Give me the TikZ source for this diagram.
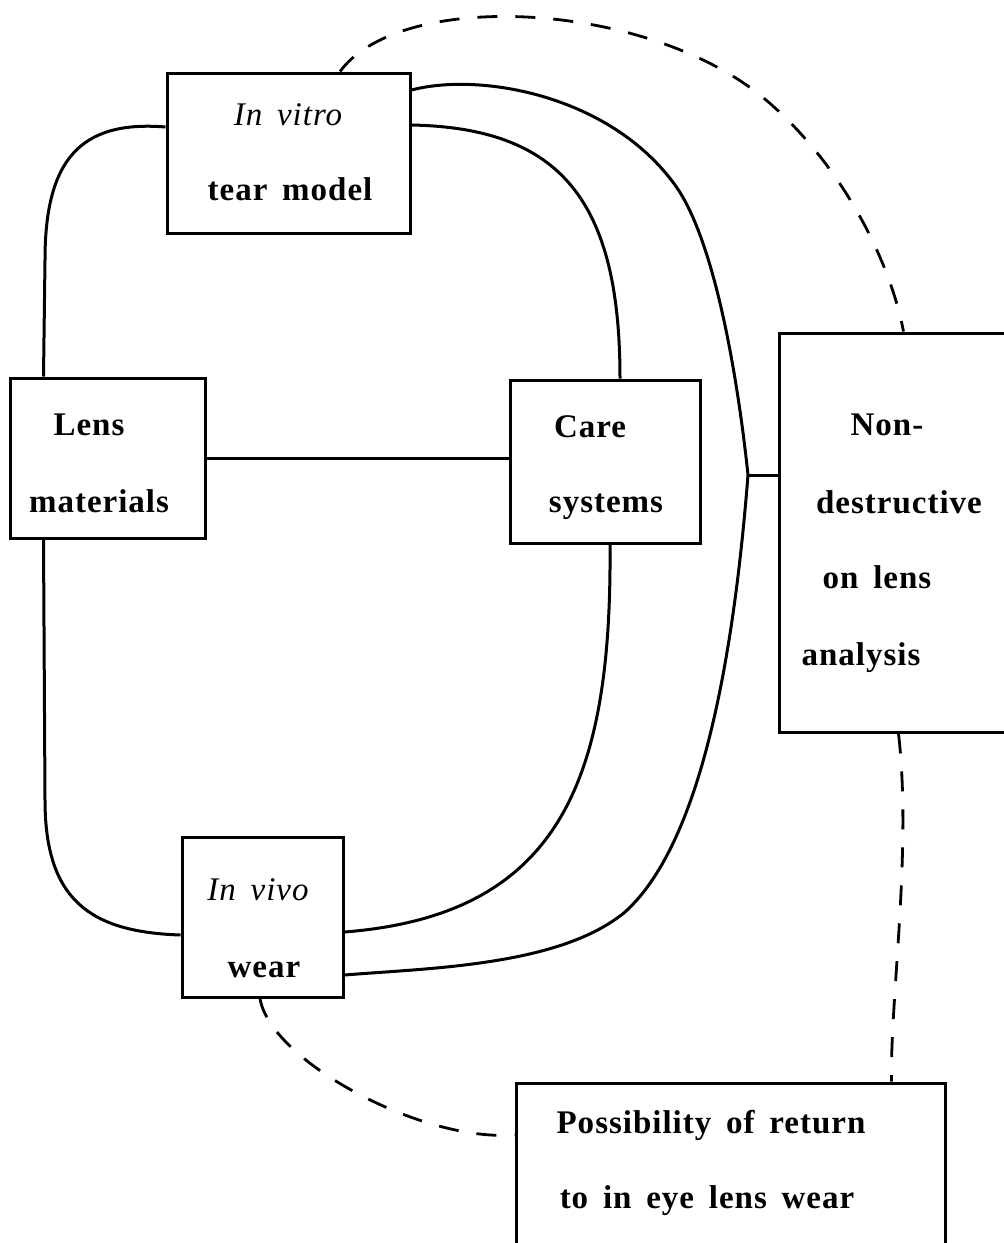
\documentclass[tikz,border=0pt]{standalone}
\usepackage{fontspec}
\setmainfont{Liberation Serif}[LetterSpace=3,WordSpace=1.6]
\usetikzlibrary{calc}
\begin{document}
\begin{tikzpicture}[x=0.5pt,y=-0.5pt,
  box/.style={draw,line width=1.5pt,inner sep=0pt},
  link/.style={line width=1.5pt},
  dlink/.style={line width=1.4pt,dash pattern=on 10pt off 9pt},
  lbl/.style={anchor=base,inner sep=0pt,font=\fontsize{16.5}{19}\selectfont\bfseries},
  ilbl/.style={anchor=base,inner sep=0pt,font=\fontsize{16.5}{19}\selectfont\itshape}]
\useasboundingbox (0,0) rectangle (1003,1243);
% boxes
\node[box,minimum width=121.5pt,minimum height=80pt] (vitro) at (288.5,153) {};
\node[box,minimum width=97.5pt,minimum height=80pt] (lens) at (107.5,458) {};
\node[box,minimum width=95pt,minimum height=81.5pt] (care) at (605,461.5) {};
\node[box,minimum width=116pt,minimum height=199.5pt] (nond) at (895,532.5) {};
\node[box,minimum width=80.5pt,minimum height=80pt] (vivo) at (262.5,917) {};
\node[box,minimum width=214.5pt,minimum height=83.5pt] (poss) at (730.5,1166.5) {};
% texts
\node[ilbl] (t1) at (288,125) {In vitro};
\node[lbl] (t2) at (290,200) {tear model};
\node[lbl] (t3) at (89,435) {Lens};
\node[lbl] (t4) at (99,512) {materials};
\node[lbl] (t5) at (590,437) {Care};
\node[lbl] (t6) at (606,512) {systems};
\node[lbl] (t7) at (887,435) {Non-};
\node[lbl] (t8) at (899,513) {destructive};
\node[lbl] (t9) at (877,588) {on lens};
\node[lbl] (t10) at (861,665) {analysis};
\node[ilbl] (t11) at (258,900) {In vivo};
\node[lbl] (t12) at (264,977) {wear};
\node[lbl] (t13) at (711,1133) {Possibility of return};
\node[lbl] (t14) at (707,1208) {to in eye lens wear};
% junction
\coordinate (j) at (748,475);
% solid connectors
\draw[link] ($(vitro.west)+(0,-26)$) .. controls (80,120) and (45,160) .. (45,260) -- ($(lens.north west)+(35,0)$);
\draw[link] ($(lens.south west)+(35,0)$) -- (45,800) .. controls (45,900) and (90,932) .. ($(vivo.west)+(0,18)$);
\draw[link] (lens.east) -- (lens.east -| care.west);
\draw[link] ($(vitro.east)+(0,-28)$) .. controls (560,128) and (620,200) .. ($(care.north)+(15,0)$);
\draw[link] ($(care.south)+(5,0)$) .. controls (612,780) and (560,915) .. ($(vivo.east)+(0,15)$);
\draw[link] ($(vitro.east)+(0,-63)$) .. controls (480,72) and (610,95) .. (675,185) .. controls (715,240) and (738,380) .. (j);
\draw[link] (j) .. controls (735,640) and (705,840) .. (625,912) .. controls (560,966) and (430,968) .. ($(vivo.east)+(0,58)$);
\draw[link] (j) -- (j -| nond.west);
% dashed connectors
\draw[dlink] ($(vitro.north)+(51.5,0)$) .. controls (400,-10) and (640,0) .. (760,95) .. controls (840,160) and (890,260) .. ($(nond.north west)+(126,0)$);
\draw[dlink] ($(nond.south west)+(121,0)$) .. controls (912,850) and (890,1000) .. ($(poss.north west)+(377,0)$);
\draw[dlink] ($(vivo.south)+(-2.5,0)$) .. controls (270,1060) and (420,1142) .. ($(poss.west)+(0,-31.5)$);
\end{tikzpicture}
\end{document}
